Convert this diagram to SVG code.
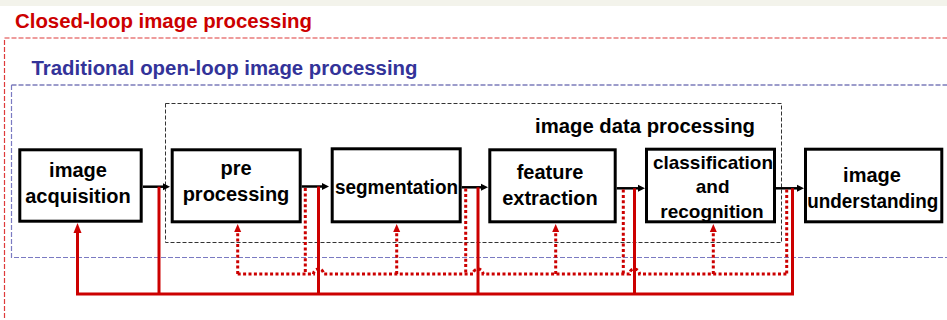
<svg xmlns="http://www.w3.org/2000/svg" width="947" height="320" viewBox="0 0 947 320">
  <defs>
    <style>
      .title { font-family: "Liberation Sans", Arial, sans-serif; font-weight: bold; font-size: 20px; }
      .box { fill: #ffffff; stroke: #000000; stroke-width: 3; }
      .lbl { font-family: "Liberation Sans", Arial, sans-serif; font-weight: bold; font-size: 20px; fill: #000000; text-anchor: middle; }
      .flow { fill: none; stroke: #000000; stroke-width: 2.5; marker-end: url(#headBlack); }
      .fb { fill: none; stroke: #cc0000; stroke-width: 3; }
      .fbDot { fill: none; stroke: #cc0000; stroke-width: 3; stroke-dasharray: 3 2.4; }
    </style>
    <marker id="headBlack" markerUnits="userSpaceOnUse" markerWidth="8" markerHeight="8" refX="0" refY="4" orient="auto" overflow="visible">
      <path d="M0,0.5 L7,4 L0,7.5 z" fill="#000000"/>
    </marker>
    <marker id="headRed" markerUnits="userSpaceOnUse" markerWidth="10" markerHeight="9" refX="0" refY="4.5" orient="auto" overflow="visible">
      <path d="M0,0.5 L10,4.5 L0,8.5 z" fill="#cc0000"/>
    </marker>
    <marker id="headRedSmall" markerUnits="userSpaceOnUse" markerWidth="8" markerHeight="8" refX="0" refY="4" orient="auto" overflow="visible">
      <path d="M0,0.5 L8,4 L0,7.5 z" fill="#cc0000"/>
    </marker>
  </defs>

  <rect x="0" y="0" width="947" height="320" fill="#ffffff"/>
  <rect x="0" y="0" width="947" height="6" fill="#f3f3eb"/>

  <!-- enclosing frames -->
  <g id="closed-loop-frame">
    <rect x="4.5" y="38" width="960" height="300" fill="none" stroke="#de3a3a" stroke-width="1.2" stroke-dasharray="5 2"/>
    <text class="title" x="15" y="27.5" fill="#cc0000" textLength="297" lengthAdjust="spacingAndGlyphs">Closed-loop image processing</text>
  </g>
  <g id="open-loop-frame">
    <path d="M11.5,85 H960" fill="none" stroke="#3a3a98" stroke-width="1.2" stroke-dasharray="5 2"/>
    <path d="M11.5,85 V257.5 H960" fill="none" stroke="#7a7ac2" stroke-width="1.2" stroke-dasharray="5 2"/>
    <text class="title" x="31.5" y="75" fill="#333399" textLength="386" lengthAdjust="spacingAndGlyphs">Traditional open-loop image processing</text>
  </g>
  <g id="data-processing-frame">
    <rect x="165.5" y="103.5" width="616" height="139" fill="none" stroke="#333333" stroke-width="1" stroke-dasharray="4 2"/>
    <text class="title" x="755" y="133" fill="#000000" text-anchor="end" textLength="220" lengthAdjust="spacingAndGlyphs">image data processing</text>
  </g>

  <!-- stage boxes -->
  <g id="acquisition">
    <rect class="box" x="19.8" y="149.8" width="121.4" height="71.4"/>
    <text class="lbl" x="78" y="176.5">image</text>
    <text class="lbl" x="78" y="203">acquisition</text>
  </g>
  <g id="preprocessing">
    <rect class="box" x="172.2" y="149.8" width="128" height="72"/>
    <text class="lbl" x="236" y="175">pre</text>
    <text class="lbl" x="236" y="201">processing</text>
  </g>
  <g id="segmentation">
    <rect class="box" x="332.2" y="148.8" width="128" height="73"/>
    <text class="lbl" x="396.5" y="193.5" textLength="123" lengthAdjust="spacingAndGlyphs">segmentation</text>
  </g>
  <g id="feature-extraction">
    <rect class="box" x="489.8" y="149.8" width="125.4" height="72"/>
    <text class="lbl" x="550" y="178.5">feature</text>
    <text class="lbl" x="550" y="205">extraction</text>
  </g>
  <g id="classification">
    <rect class="box" x="646.5" y="149.2" width="128" height="72.6"/>
    <text class="lbl" x="713" y="168.5" style="font-size:19px" textLength="120" lengthAdjust="spacingAndGlyphs">classification</text>
    <text class="lbl" x="712.7" y="193.3" style="font-size:19px">and</text>
    <text class="lbl" x="712" y="217.5" style="font-size:19px">recognition</text>
  </g>
  <g id="understanding">
    <rect class="box" x="805.5" y="149.2" width="136.3" height="72.6"/>
    <text class="lbl" x="872" y="181.7">image</text>
    <text class="lbl" x="872.8" y="208.3" textLength="131" lengthAdjust="spacingAndGlyphs">understanding</text>
  </g>

  <!-- connectors -->
  <g id="connectors">
    <!-- forward flow -->
    <path class="flow" d="M143,186.7 H163"/>
    <path class="flow" d="M301.7,186.5 H322"/>
    <path class="flow" d="M461.7,187.3 H481"/>
    <path class="flow" d="M616.7,188.3 H638"/>
    <path class="flow" d="M776,188.3 H797"/>

    <!-- solid feedback bus to acquisition -->
    <path class="fb" d="M792.5,188.3 V294 H77.5 V233" marker-end="url(#headRed)"/>
    <path class="fb" d="M159,186.7 V294"/>
    <path class="fb" d="M318.5,186.5 V294"/>
    <path class="fb" d="M478,187.3 V294"/>
    <path class="fb" d="M634.5,188.3 V294"/>

    <!-- dotted stage feedback: taps -->
    <path class="fbDot" d="M305.3,188 V274"/>
    <path class="fbDot" d="M465.7,188.5 V274"/>
    <path class="fbDot" d="M623.3,189.5 V274"/>
    <path class="fbDot" d="M786.7,189.5 V274"/>
    <!-- dotted bus with jumps over the solid risers -->
    <path class="fbDot" d="M237.7,274 H313.5 A5 5 0 0 1 323.5,274 H473 A5 5 0 0 1 483,274 H629.5 A5 5 0 0 1 639.5,274 H786.7"/>
    <!-- dotted returns into each stage -->
    <path class="fbDot" d="M237.7,274 V232" marker-end="url(#headRedSmall)"/>
    <path class="fbDot" d="M396.7,274 V232" marker-end="url(#headRedSmall)"/>
    <path class="fbDot" d="M555.7,274 V232" marker-end="url(#headRedSmall)"/>
    <path class="fbDot" d="M713.3,274 V232" marker-end="url(#headRedSmall)"/>
  </g>
</svg>
